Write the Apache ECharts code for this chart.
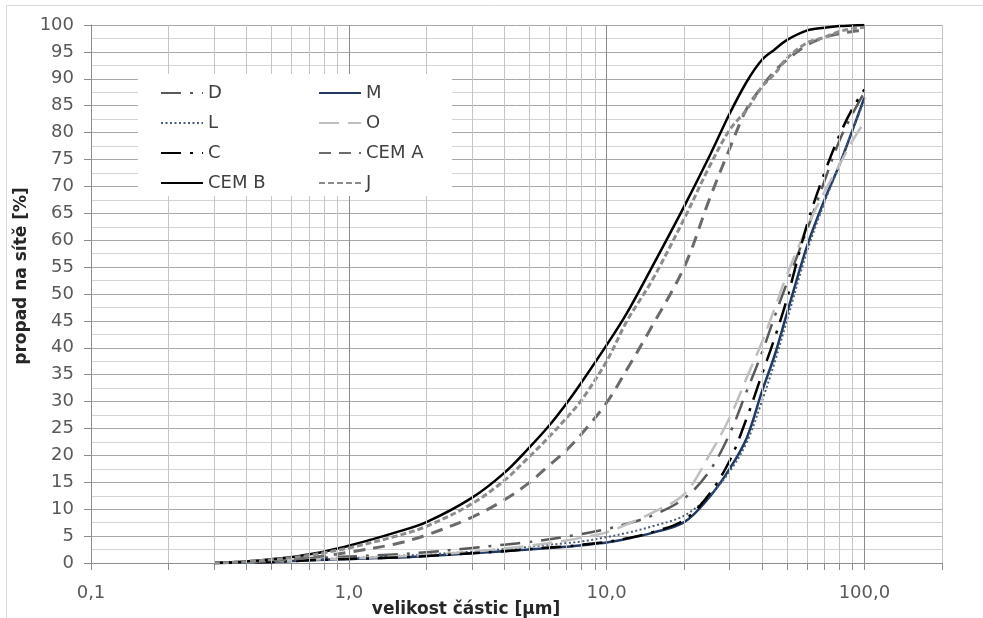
<!DOCTYPE html>
<html>
<head>
<meta charset="utf-8">
<script src="https://cdn.jsdelivr.net/npm/echarts@6/dist/echarts.min.js"></script>
<style>
  html, body { margin: 0; padding: 0; background: #ffffff; }
  #chart { width: 983px; height: 618px; }
</style>
</head>
<body>
<div id="chart"></div>
<script>
// Particle size [µm] at which every grading curve is sampled
const sizes = [0.3, 0.4, 0.5, 0.6, 0.7, 0.8, 1, 1.5, 2, 3, 4, 5, 6, 7, 8, 10, 12, 15, 20, 25, 30, 35, 40, 45, 50, 60, 70, 80, 90, 100];

// Cumulative passing [%] for each material
const passD    = [0, 0.2, 0.4, 0.65, 0.9, 1.0, 1.2, 1.6, 2.0, 2.8, 3.4, 3.9, 4.4, 4.9, 5.4, 6.3, 7.3, 8.8, 12, 17, 24, 32, 39, 46, 52, 62, 71, 78.5, 83.5, 87.5];
const passM    = [0, 0.1, 0.2, 0.35, 0.5, 0.6, 0.75, 1.0, 1.3, 1.8, 2.2, 2.5, 2.8, 3.0, 3.3, 3.8, 4.5, 5.6, 7.6, 12.2, 17.5, 23.3, 31.8, 38.8, 46.3, 59, 67.5, 74, 80.5, 86.5];
const passL    = [0, 0.15, 0.3, 0.45, 0.6, 0.75, 0.9, 1.3, 1.6, 2.1, 2.6, 3.0, 3.4, 3.7, 4.0, 4.8, 5.6, 6.8, 8.8, 12.5, 17, 22.5, 30, 37.5, 45, 58, 67, 74, 80.5, 86];
const passO    = [0, 0.15, 0.3, 0.45, 0.6, 0.7, 0.85, 1.2, 1.5, 2.1, 2.7, 3.2, 3.7, 4.2, 4.7, 5.7, 7.2, 9.3, 12.8, 20, 27, 34.5, 41, 47.5, 53.5, 62.5, 69, 74, 78.5, 82];
const passC    = [0, 0.1, 0.2, 0.35, 0.5, 0.6, 0.75, 1.0, 1.3, 1.8, 2.2, 2.6, 2.9, 3.1, 3.4, 3.9, 4.6, 5.7, 8, 12.8, 19, 27, 35, 42, 49, 63, 72.5, 79.5, 84.5, 88];
const passCemA = [0, 0.2, 0.4, 0.7, 1.0, 1.3, 2.0, 3.5, 5.2, 8.5, 11.7, 14.9, 18.2, 21, 24, 29.8, 36, 44, 55, 67.5, 77, 84.5, 88.5, 91.5, 93.5, 96.3, 97.7, 98.4, 98.8, 99];
const passCemB = [0, 0.3, 0.7, 1.1, 1.6, 2.1, 3.2, 5.6, 7.6, 12.1, 16.7, 21.4, 25.6, 29.7, 33.6, 40.5, 46.5, 55, 66.3, 75.5, 83.5, 89.5, 93.5, 95.5, 97.2, 99, 99.5, 99.8, 99.9, 100];
const passJ    = [0, 0.25, 0.6, 1.0, 1.4, 1.9, 2.8, 4.9, 6.8, 11, 15.3, 19.7, 23.5, 27, 30.3, 37.5, 45, 52.5, 64, 73.6, 80.5, 84.3, 88.5, 91, 93.8, 96.7, 97.7, 98.8, 99.3, 99.6];

// Axis ticks
const decadeTicks = [0.1, 1, 10, 100];
const minorTicks = [0.2, 0.3, 0.4, 0.5, 0.6, 0.7, 0.8, 0.9,
                    2, 3, 4, 5, 6, 7, 8, 9,
                    20, 30, 40, 50, 60, 70, 80, 90, 200];
const allXTicks = decadeTicks.concat(minorTicks).sort((a, b) => a - b);

const FONT = 'DejaVu Sans';

function pairs(values) {
  return sizes.map((s, i) => [s, values[i]]);
}

function curve(name, values, color, width, dash) {
  return {
    name: name,
    type: 'line',
    data: pairs(values),
    symbol: 'none',
    showSymbol: false,
    smooth: 0.35,
    z: 3,
    lineStyle: { color: color, width: width, type: dash || 'solid', cap: 'butt', join: 'round' },
    itemStyle: { color: color },
    emphasis: { disabled: true },
    animation: false
  };
}

// Vertical log-grid lines drawn as mark lines on an empty helper series
const gridLines = {
  name: 'grid',
  type: 'line',
  data: [],
  silent: true,
  z: 1,
  animation: false,
  markLine: {
    silent: true,
    symbol: ['none', 'none'],
    label: { show: false },
    animation: false,
    data: decadeTicks.map(v => ({ xAxis: v, lineStyle: { color: '#8c8c8c', width: 1, type: 'solid' } }))
      .concat(minorTicks.map(v => ({ xAxis: v, lineStyle: { color: '#c4c4c4', width: 1, type: 'solid' } })))
  }
};

const legendCommon = {
  orient: 'vertical',
  top: 83,
  padding: 0,
  itemWidth: 42,
  itemHeight: 14,
  itemGap: 10,
  selectedMode: false,
  itemStyle: { opacity: 0 },
  textStyle: { fontFamily: FONT, fontSize: 18, color: '#404040', lineHeight: 20 },
  zlevel: 2,
  z: 10
};

const chart = echarts.init(document.getElementById('chart'), null, { renderer: 'canvas' });

chart.setOption({
  backgroundColor: '#ffffff',
  animation: false,
  grid: { left: 91, right: 41, top: 25, bottom: 55, containLabel: false },
  xAxis: {
    type: 'log',
    logBase: 10,
    min: 0.1,
    max: 200,
    axisLine: { show: true, lineStyle: { color: '#8c8c8c', width: 1 } },
    axisTick: { show: true, length: 7, customValues: allXTicks, lineStyle: { color: '#8c8c8c' } },
    axisLabel: {
      customValues: decadeTicks,
      fontFamily: FONT,
      fontSize: 18,
      color: '#595959',
      margin: 21,
      formatter: function (v) {
        const lg = Math.log10(v);
        if (Math.abs(lg - Math.round(lg)) > 1e-6) return '';
        return v.toFixed(1).replace('.', ',');
      }
    },
    splitLine: { show: false }
  },
  yAxis: {
    type: 'value',
    min: 0,
    max: 100,
    interval: 5,
    axisLine: { show: true, lineStyle: { color: '#8c8c8c', width: 1 } },
    axisTick: { show: true, length: 7, lineStyle: { color: '#8c8c8c' } },
    axisLabel: { fontFamily: FONT, fontSize: 18, color: '#595959', margin: 17 },
    splitLine: { show: true, lineStyle: { color: '#a8a8a8', width: 1 } },
    minorTick: { show: false, splitNumber: 2 },
    minorSplitLine: { show: true, lineStyle: { color: '#d4d4d4', width: 1 } }
  },
  legend: [
    Object.assign({}, legendCommon, { data: ['D', 'L', 'C', 'CEM B'], left: 160 }),
    Object.assign({}, legendCommon, { data: ['M', 'O', 'CEM A', 'J'], left: 318 })
  ],
  graphic: [
    {
      type: 'rect',
      silent: true,
      z: 0,
      shape: { x: 6.5, y: 5.5, width: 1000, height: 700 },
      style: { fill: 'none', stroke: '#d9d9d9', lineWidth: 1 }
    },
    {
      // white panel behind the legend, on its own layer above the plot
      type: 'rect',
      silent: true,
      zlevel: 1,
      z: 0,
      shape: { x: 138, y: 74, width: 314, height: 122 },
      style: { fill: '#ffffff', stroke: null }
    },
    {
      type: 'text',
      silent: true,
      z: 50,
      x: 466,
      y: 610,
      style: {
        text: 'velikost částic [µm]',
        fontFamily: FONT,
        fontWeight: 'bold',
        fontSize: 17,
        fill: '#262626',
        align: 'center',
        verticalAlign: 'middle'
      }
    },
    {
      type: 'text',
      silent: true,
      z: 50,
      x: 22,
      y: 276,
      rotation: Math.PI / 2,
      style: {
        text: 'propad na sítě [%]',
        fontFamily: FONT,
        fontWeight: 'bold',
        fontSize: 17,
        fill: '#262626',
        align: 'center',
        verticalAlign: 'middle'
      }
    }
  ],
  series: [
    gridLines,
    curve('D', passD, '#595959', 2.5, [20, 9, 3, 9]),
    curve('M', passM, '#1f3864', 2.5, 'solid'),
    curve('L', passL, '#4a5d78', 2, [2, 2.5]),
    curve('O', passO, '#bfbfbf', 2.5, [20, 9]),
    curve('C', passC, '#000000', 2.5, [20, 9, 3, 9]),
    curve('CEM A', passCemA, '#6b6b6b', 3, [12, 8]),
    curve('CEM B', passCemB, '#000000', 2.5, 'solid'),
    curve('J', passJ, '#8c8c8c', 3, [6, 3])
  ]
});
</script>
</body>
</html>
